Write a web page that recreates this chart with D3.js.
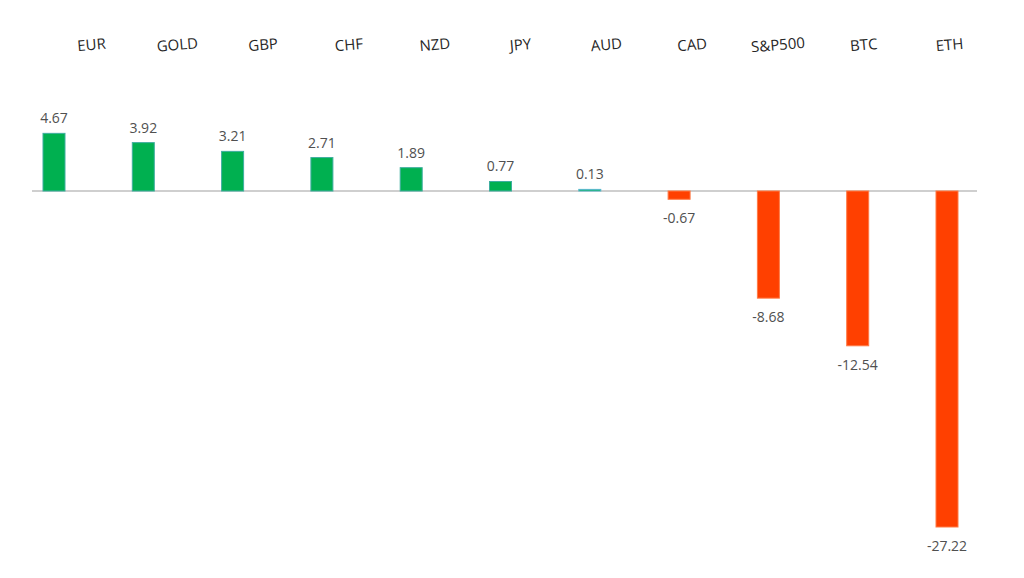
<!DOCTYPE html>
<html>
<head>
<meta charset="utf-8">
<script src="https://cdn.jsdelivr.net/npm/d3@7/dist/d3.min.js"></script>
<style>
  html, body { margin: 0; padding: 0; background: #fff; }
  svg { display: block; font-family: "Open Sans", Lato, sans-serif; }
</style>
</head>
<body>
<svg id="chart" width="1024" height="578"></svg>
<script>
const categories = ["EUR", "GOLD", "GBP", "CHF", "NZD", "JPY", "AUD", "CAD", "S&P500", "BTC", "ETH"];
const values = [4.67, 3.92, 3.21, 2.71, 1.89, 0.77, 0.13, -0.67, -8.68, -12.54, -27.22];
const valueLabels = ["4.67", "3.92", "3.21", "2.71", "1.89", "0.77", "0.13", "-0.67", "-8.68", "-12.54", "-27.22"];

const data = categories.map((c, i) => ({ cat: c, value: values[i], label: valueLabels[i] }));

const svg = d3.select("#chart");

const x = d3.scalePoint().domain(categories).range([54, 947]);
const xLabel = d3.scalePoint().domain(categories).range([92, 950]);
const y = d3.scaleLinear().domain([0, -27.22]).range([191, 527]);
const barW = 22;

// zero axis line
svg.append("line")
  .attr("x1", 32).attr("x2", 977)
  .attr("y1", y(0)).attr("y2", y(0))
  .attr("stroke", "#bfbfbf").attr("stroke-width", 1.5);

// bars
svg.selectAll("rect.bar").data(data).enter().append("rect")
  .attr("class", "bar")
  .attr("x", d => x(d.cat) - barW / 2)
  .attr("width", barW)
  .attr("y", d => d.value >= 0 ? y(d.value) : y(0))
  .attr("height", d => Math.abs(y(d.value) - y(0)))
  .attr("fill", d => d.value >= 0 ? "#00b050" : "#ff4000")
  .attr("stroke", d => d.value >= 0 ? (d.value < 0.5 ? "#5bb8d0" : "#3fae9f") : "#ff7a45")
  .attr("stroke-width", 1);

// value labels
svg.selectAll("text.val").data(data).enter().append("text")
  .attr("class", "val")
  .attr("x", d => x(d.cat))
  .attr("y", d => d.value >= 0 ? y(d.value) - 10 : y(d.value) + 24)
  .attr("text-anchor", "middle")
  .attr("font-size", 14)
  .attr("fill", "#505050")
  .text(d => d.label);

// category labels at top (slightly tilted)
svg.selectAll("text.cat").data(data).enter().append("text")
  .attr("class", "cat")
  .attr("transform", d => `translate(${xLabel(d.cat)},50) rotate(-5)`)
  .attr("text-anchor", "middle")
  .attr("font-size", 15)
  .attr("fill", "#262626")
  .text(d => d.cat);
</script>
</body>
</html>
